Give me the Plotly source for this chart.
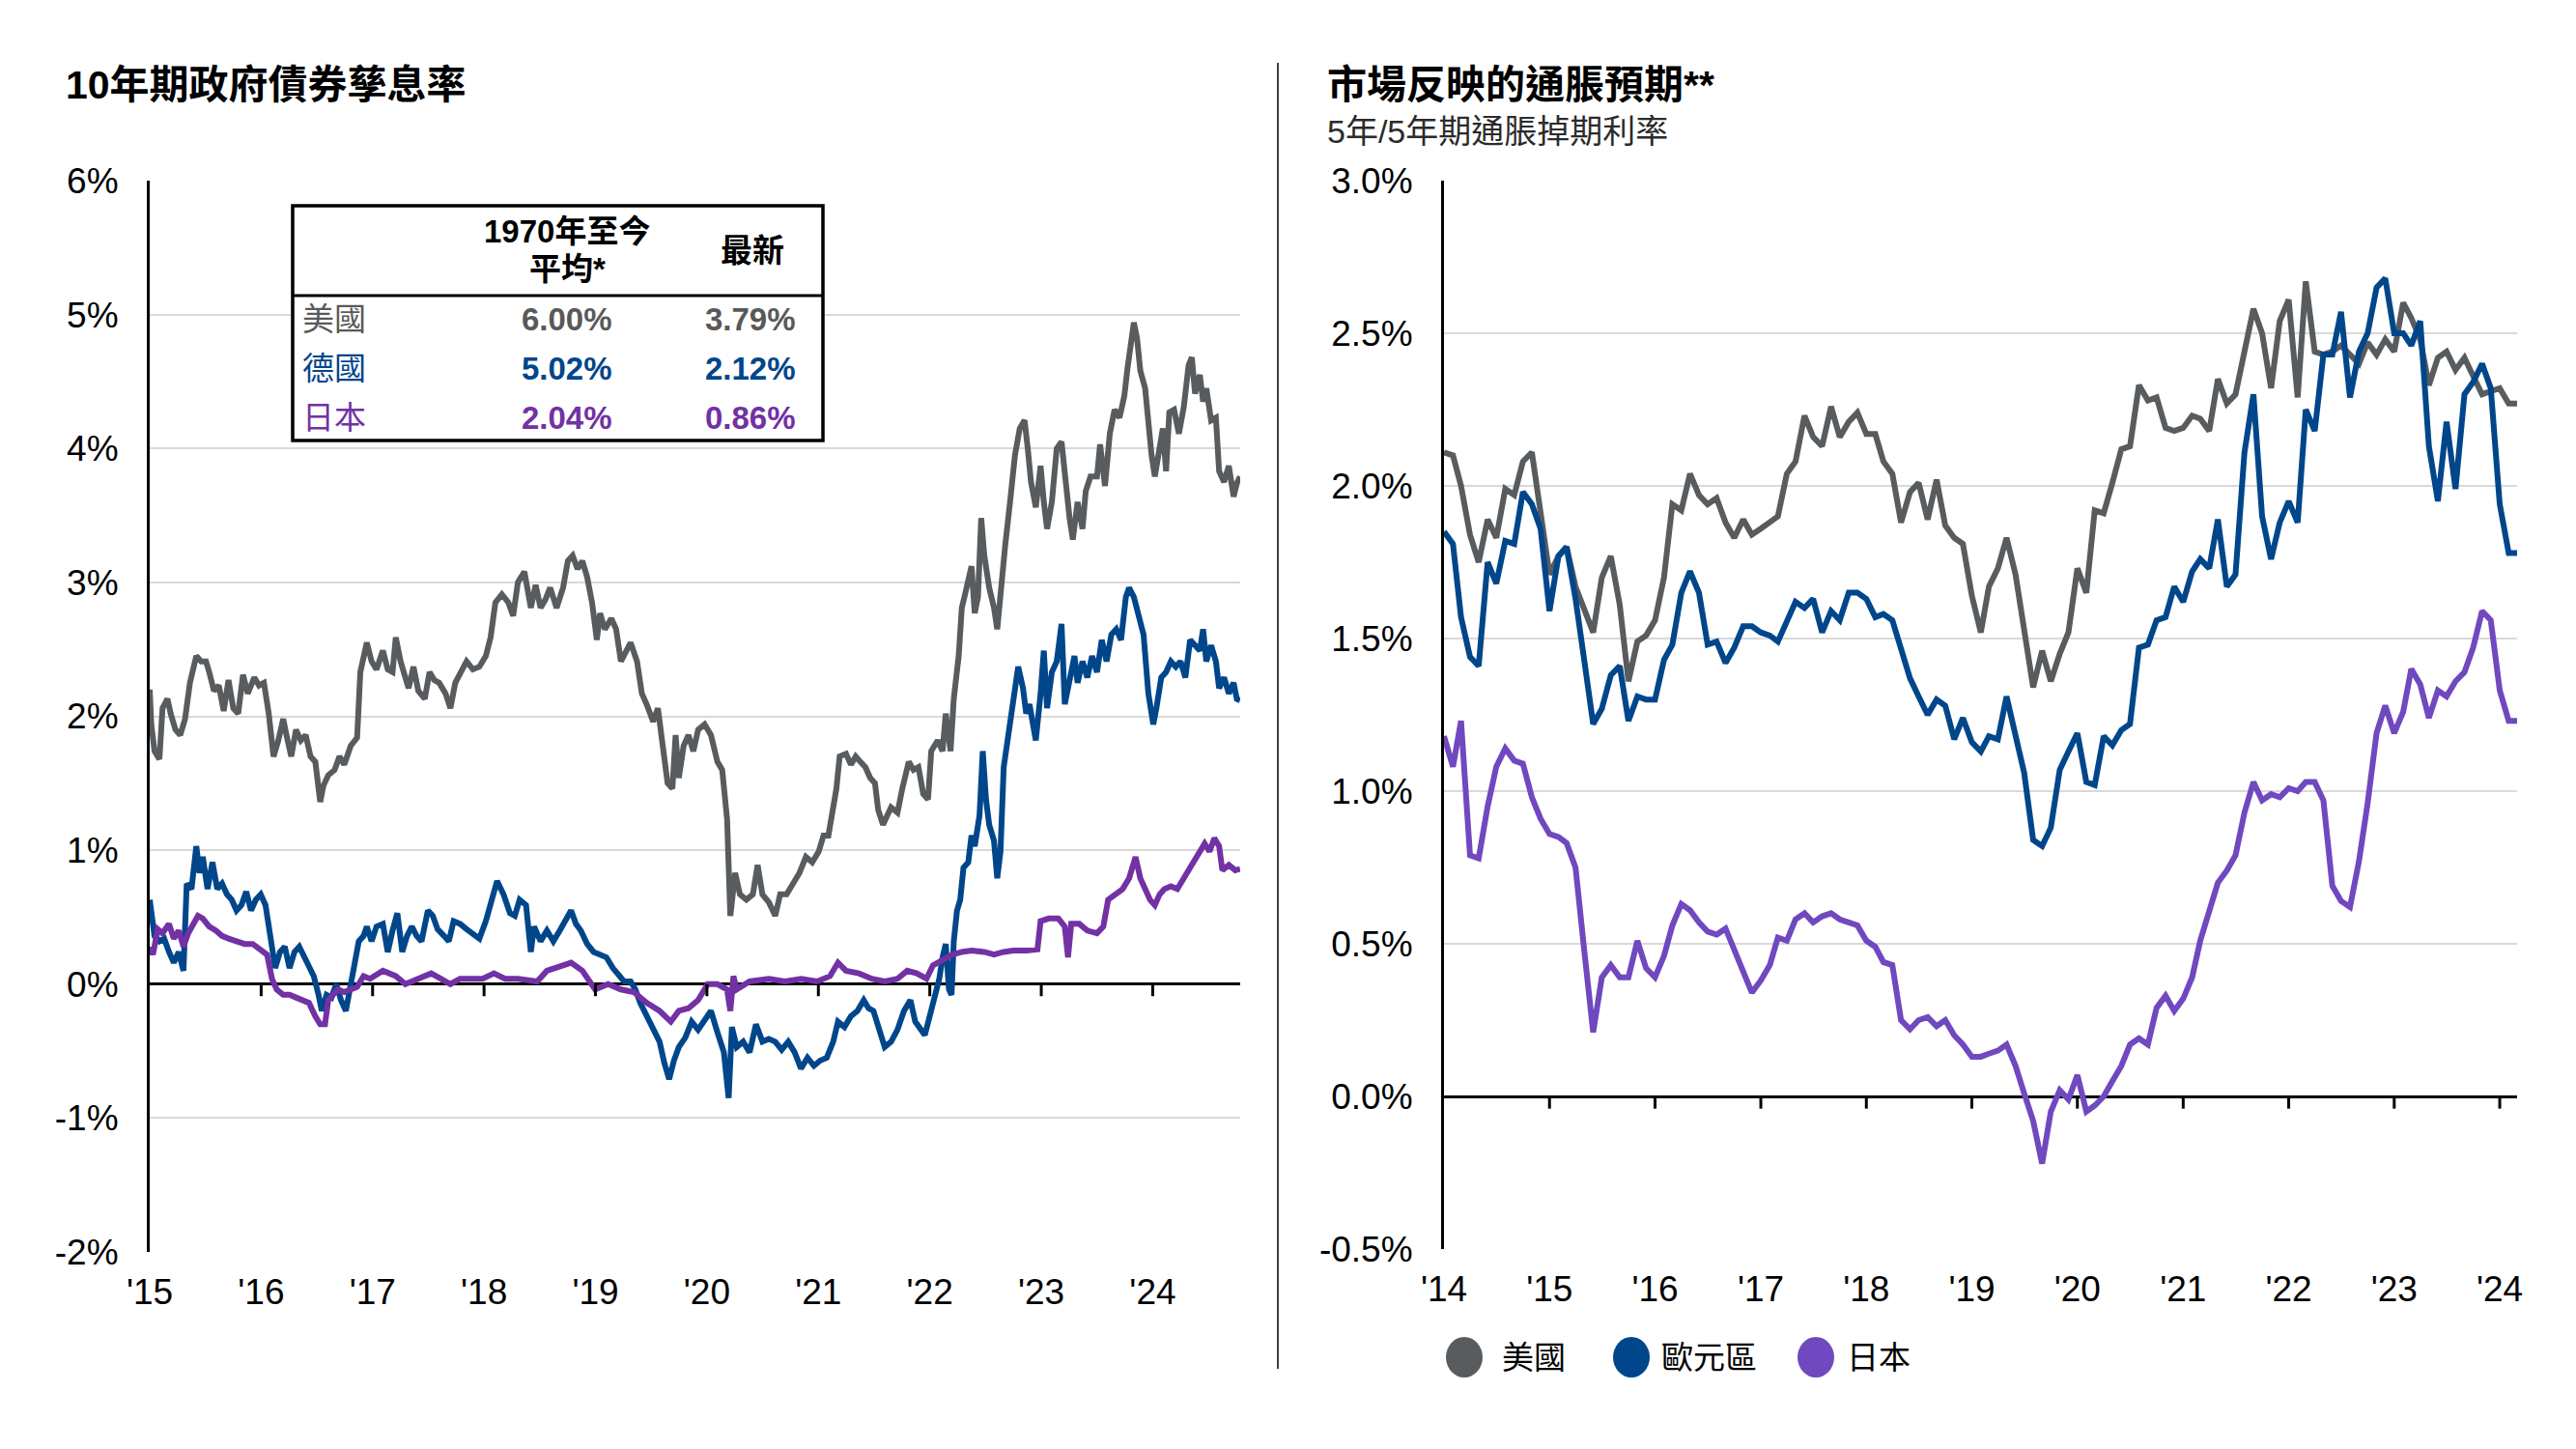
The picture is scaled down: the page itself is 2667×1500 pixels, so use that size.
import plotly.graph_objects as go
import pandas as pd

W, H = 2667, 1500      # browser window
OFF = 8                # page body margin in front of the plot div
FW, FH = W - 2 * OFF, H - 2 * OFF

# ---------------- Left panel: 10-year government bond yields (decimal year, %) ----------------
us_10y = [
    (2015.000, 2.20), (2015.014, 1.94), (2015.043, 1.74), (2015.087, 1.68), (2015.115, 2.06),
    (2015.159, 2.13), (2015.188, 2.02), (2015.231, 1.90), (2015.274, 1.86), (2015.317, 1.98),
    (2015.361, 2.25), (2015.418, 2.45), (2015.462, 2.41), (2015.505, 2.41), (2015.534, 2.33),
    (2015.577, 2.19), (2015.620, 2.23), (2015.664, 2.04), (2015.707, 2.27), (2015.750, 2.06),
    (2015.794, 2.02), (2015.837, 2.31), (2015.880, 2.17), (2015.938, 2.29), (2015.981, 2.23),
    (2016.025, 2.25), (2016.068, 2.02), (2016.111, 1.70), (2016.154, 1.82), (2016.198, 1.98),
    (2016.227, 1.86), (2016.270, 1.70), (2016.313, 1.90), (2016.356, 1.82), (2016.400, 1.86),
    (2016.443, 1.70), (2016.486, 1.66), (2016.530, 1.36), (2016.558, 1.48), (2016.602, 1.56),
    (2016.659, 1.60), (2016.703, 1.70), (2016.746, 1.64), (2016.804, 1.78), (2016.861, 1.84),
    (2016.890, 2.33), (2016.948, 2.55), (2016.991, 2.41), (2017.035, 2.35), (2017.092, 2.49),
    (2017.136, 2.35), (2017.179, 2.33), (2017.208, 2.59), (2017.251, 2.41), (2017.294, 2.29),
    (2017.323, 2.21), (2017.367, 2.37), (2017.410, 2.19), (2017.468, 2.13), (2017.511, 2.33),
    (2017.554, 2.27), (2017.597, 2.25), (2017.655, 2.17), (2017.698, 2.06), (2017.742, 2.25),
    (2017.799, 2.33), (2017.843, 2.41), (2017.900, 2.35), (2017.958, 2.37), (2018.016, 2.45),
    (2018.059, 2.59), (2018.102, 2.85), (2018.160, 2.91), (2018.218, 2.85), (2018.261, 2.75),
    (2018.304, 3.00), (2018.362, 3.08), (2018.420, 2.81), (2018.463, 2.98), (2018.507, 2.81),
    (2018.550, 2.87), (2018.593, 2.96), (2018.651, 2.81), (2018.709, 2.96), (2018.752, 3.16),
    (2018.795, 3.20), (2018.839, 3.10), (2018.882, 3.16), (2018.925, 3.04), (2018.969, 2.85),
    (2019.012, 2.57), (2019.041, 2.77), (2019.084, 2.65), (2019.142, 2.73), (2019.185, 2.65),
    (2019.228, 2.41), (2019.272, 2.49), (2019.315, 2.55), (2019.373, 2.41), (2019.416, 2.17),
    (2019.459, 2.09), (2019.517, 1.96), (2019.560, 2.06), (2019.604, 1.78), (2019.647, 1.50),
    (2019.690, 1.46), (2019.719, 1.86), (2019.748, 1.54), (2019.791, 1.78), (2019.834, 1.86),
    (2019.878, 1.74), (2019.921, 1.90), (2019.979, 1.94), (2020.036, 1.86), (2020.094, 1.66),
    (2020.137, 1.60), (2020.181, 1.23), (2020.210, 0.51), (2020.253, 0.83), (2020.296, 0.67),
    (2020.354, 0.63), (2020.412, 0.67), (2020.455, 0.89), (2020.498, 0.67), (2020.556, 0.61),
    (2020.613, 0.51), (2020.657, 0.67), (2020.715, 0.67), (2020.772, 0.75), (2020.830, 0.83),
    (2020.888, 0.95), (2020.945, 0.91), (2021.003, 0.99), (2021.046, 1.11), (2021.090, 1.11),
    (2021.133, 1.30), (2021.162, 1.46), (2021.191, 1.70), (2021.248, 1.72), (2021.292, 1.64),
    (2021.335, 1.70), (2021.378, 1.66), (2021.422, 1.62), (2021.465, 1.54), (2021.508, 1.50),
    (2021.537, 1.30), (2021.580, 1.19), (2021.652, 1.32), (2021.710, 1.28), (2021.753, 1.46),
    (2021.811, 1.66), (2021.854, 1.60), (2021.898, 1.62), (2021.941, 1.42), (2021.984, 1.38),
    (2022.013, 1.74), (2022.071, 1.82), (2022.114, 1.74), (2022.143, 2.02), (2022.186, 1.74),
    (2022.215, 2.13), (2022.259, 2.45), (2022.287, 2.81), (2022.316, 2.91), (2022.374, 3.12),
    (2022.403, 2.77), (2022.432, 2.89), (2022.461, 3.48), (2022.489, 3.20), (2022.533, 2.96),
    (2022.576, 2.81), (2022.605, 2.65), (2022.634, 2.93), (2022.677, 3.28), (2022.720, 3.60),
    (2022.764, 3.95), (2022.807, 4.15), (2022.850, 4.21), (2022.879, 4.00), (2022.908, 3.75),
    (2022.951, 3.56), (2022.994, 3.87), (2023.023, 3.60), (2023.052, 3.40), (2023.095, 3.60),
    (2023.139, 4.00), (2023.182, 4.05), (2023.211, 3.79), (2023.254, 3.48), (2023.283, 3.32),
    (2023.326, 3.60), (2023.370, 3.40), (2023.399, 3.68), (2023.442, 3.79), (2023.500, 3.79),
    (2023.528, 4.03), (2023.572, 3.72), (2023.615, 4.11), (2023.658, 4.29), (2023.702, 4.23),
    (2023.745, 4.39), (2023.774, 4.60), (2023.803, 4.78), (2023.831, 4.94), (2023.860, 4.82),
    (2023.889, 4.58), (2023.932, 4.45), (2023.961, 4.19), (2023.990, 3.95), (2024.019, 3.79),
    (2024.062, 4.00), (2024.091, 4.15), (2024.120, 3.83), (2024.149, 4.27), (2024.192, 4.29),
    (2024.235, 4.11), (2024.279, 4.31), (2024.322, 4.62), (2024.351, 4.68), (2024.380, 4.41),
    (2024.423, 4.55), (2024.452, 4.35), (2024.481, 4.45), (2024.524, 4.21), (2024.567, 4.23),
    (2024.596, 3.83), (2024.640, 3.75), (2024.683, 3.87), (2024.726, 3.64), (2024.755, 3.74),
    (2024.784, 3.79),
]

de_10y = [
    (2015.000, 0.63), (2015.014, 0.53), (2015.043, 0.36), (2015.087, 0.32), (2015.130, 0.34),
    (2015.173, 0.24), (2015.216, 0.16), (2015.260, 0.24), (2015.303, 0.10), (2015.332, 0.75),
    (2015.375, 0.71), (2015.418, 1.03), (2015.447, 0.83), (2015.476, 0.95), (2015.519, 0.71),
    (2015.563, 0.91), (2015.606, 0.71), (2015.649, 0.75), (2015.693, 0.67), (2015.736, 0.63),
    (2015.779, 0.55), (2015.823, 0.59), (2015.866, 0.69), (2015.909, 0.55), (2015.952, 0.63),
    (2015.996, 0.67), (2016.039, 0.59), (2016.082, 0.36), (2016.126, 0.12), (2016.169, 0.24),
    (2016.212, 0.28), (2016.255, 0.12), (2016.299, 0.24), (2016.342, 0.28), (2016.385, 0.20),
    (2016.429, 0.12), (2016.472, 0.06), (2016.515, -0.08), (2016.544, -0.20), (2016.587, -0.08),
    (2016.631, -0.10), (2016.674, 0.00), (2016.717, -0.12), (2016.760, -0.20), (2016.804, 0.00),
    (2016.847, 0.24), (2016.876, 0.32), (2016.919, 0.36), (2016.948, 0.43), (2016.991, 0.32),
    (2017.035, 0.43), (2017.092, 0.45), (2017.136, 0.24), (2017.179, 0.40), (2017.222, 0.53),
    (2017.266, 0.24), (2017.309, 0.36), (2017.352, 0.43), (2017.395, 0.36), (2017.439, 0.32),
    (2017.496, 0.55), (2017.540, 0.51), (2017.583, 0.41), (2017.641, 0.36), (2017.684, 0.32),
    (2017.727, 0.47), (2017.785, 0.45), (2017.843, 0.41), (2017.900, 0.38), (2017.958, 0.34),
    (2018.016, 0.47), (2018.059, 0.59), (2018.117, 0.77), (2018.175, 0.67), (2018.232, 0.53),
    (2018.276, 0.51), (2018.319, 0.63), (2018.377, 0.59), (2018.420, 0.24), (2018.449, 0.43),
    (2018.507, 0.32), (2018.564, 0.40), (2018.622, 0.32), (2018.680, 0.40), (2018.738, 0.49),
    (2018.781, 0.55), (2018.824, 0.45), (2018.868, 0.40), (2018.925, 0.30), (2018.983, 0.24),
    (2019.041, 0.22), (2019.098, 0.20), (2019.156, 0.12), (2019.199, 0.08), (2019.257, 0.02),
    (2019.315, 0.02), (2019.358, -0.04), (2019.401, -0.14), (2019.459, -0.24), (2019.517, -0.34),
    (2019.575, -0.43), (2019.618, -0.59), (2019.661, -0.71), (2019.704, -0.57), (2019.748, -0.47),
    (2019.806, -0.40), (2019.863, -0.28), (2019.921, -0.34), (2019.979, -0.26), (2020.036, -0.20),
    (2020.094, -0.36), (2020.152, -0.51), (2020.195, -0.85), (2020.224, -0.32), (2020.267, -0.47),
    (2020.325, -0.43), (2020.383, -0.51), (2020.440, -0.30), (2020.498, -0.43), (2020.556, -0.41),
    (2020.613, -0.43), (2020.671, -0.49), (2020.729, -0.43), (2020.787, -0.51), (2020.844, -0.63),
    (2020.902, -0.55), (2020.960, -0.61), (2021.018, -0.57), (2021.075, -0.55), (2021.133, -0.43),
    (2021.176, -0.28), (2021.234, -0.32), (2021.292, -0.24), (2021.350, -0.20), (2021.407, -0.12),
    (2021.450, -0.18), (2021.494, -0.20), (2021.552, -0.36), (2021.595, -0.47), (2021.653, -0.43),
    (2021.710, -0.34), (2021.768, -0.20), (2021.826, -0.12), (2021.869, -0.28), (2021.912, -0.34),
    (2021.955, -0.38), (2021.999, -0.24), (2022.042, -0.08), (2022.085, 0.04), (2022.114, 0.20),
    (2022.143, 0.30), (2022.172, -0.04), (2022.195, -0.08), (2022.215, 0.32), (2022.244, 0.55),
    (2022.273, 0.63), (2022.302, 0.87), (2022.345, 0.91), (2022.374, 1.11), (2022.403, 1.03),
    (2022.446, 1.26), (2022.475, 1.74), (2022.504, 1.38), (2022.533, 1.19), (2022.576, 1.07),
    (2022.605, 0.79), (2022.634, 0.99), (2022.663, 1.62), (2022.706, 1.86), (2022.749, 2.06),
    (2022.793, 2.37), (2022.836, 2.21), (2022.865, 2.02), (2022.894, 2.09), (2022.951, 1.82),
    (2022.994, 2.17), (2023.023, 2.49), (2023.052, 2.06), (2023.095, 2.33), (2023.139, 2.41),
    (2023.182, 2.69), (2023.211, 2.09), (2023.254, 2.29), (2023.298, 2.45), (2023.326, 2.25),
    (2023.370, 2.41), (2023.413, 2.29), (2023.456, 2.45), (2023.500, 2.33), (2023.543, 2.57),
    (2023.586, 2.41), (2023.629, 2.61), (2023.673, 2.65), (2023.716, 2.57), (2023.759, 2.89),
    (2023.788, 2.96), (2023.831, 2.89), (2023.875, 2.73), (2023.918, 2.61), (2023.961, 2.17),
    (2024.005, 1.94), (2024.033, 2.06), (2024.077, 2.29), (2024.120, 2.33), (2024.163, 2.41),
    (2024.207, 2.37), (2024.250, 2.41), (2024.293, 2.29), (2024.336, 2.57), (2024.380, 2.53),
    (2024.423, 2.49), (2024.452, 2.65), (2024.481, 2.41), (2024.524, 2.53), (2024.567, 2.41),
    (2024.596, 2.21), (2024.640, 2.29), (2024.683, 2.17), (2024.726, 2.25), (2024.755, 2.13),
    (2024.784, 2.12),
]

jp_10y = [
    (2015.000, 0.28), (2015.029, 0.22), (2015.072, 0.41), (2015.115, 0.38), (2015.173, 0.45),
    (2015.216, 0.34), (2015.260, 0.40), (2015.303, 0.28), (2015.346, 0.38), (2015.390, 0.45),
    (2015.433, 0.51), (2015.476, 0.49), (2015.534, 0.43), (2015.592, 0.40), (2015.649, 0.36),
    (2015.707, 0.34), (2015.779, 0.32), (2015.851, 0.30), (2015.924, 0.30), (2015.996, 0.26),
    (2016.053, 0.22), (2016.097, 0.04), (2016.140, -0.04), (2016.198, -0.08), (2016.255, -0.08),
    (2016.313, -0.10), (2016.371, -0.12), (2016.429, -0.14), (2016.486, -0.24), (2016.530, -0.30),
    (2016.573, -0.30), (2016.602, -0.12), (2016.645, -0.08), (2016.688, -0.04), (2016.746, -0.06),
    (2016.804, -0.04), (2016.861, -0.02), (2016.919, 0.06), (2016.977, 0.04), (2017.092, 0.10),
    (2017.208, 0.06), (2017.294, 0.00), (2017.410, 0.04), (2017.525, 0.08), (2017.612, 0.04),
    (2017.698, 0.00), (2017.785, 0.04), (2017.872, 0.04), (2017.987, 0.04), (2018.088, 0.08),
    (2018.189, 0.04), (2018.304, 0.04), (2018.478, 0.02), (2018.564, 0.10), (2018.651, 0.12),
    (2018.781, 0.16), (2018.882, 0.10), (2018.997, -0.04), (2019.113, 0.00), (2019.228, -0.04),
    (2019.344, -0.06), (2019.459, -0.14), (2019.575, -0.20), (2019.676, -0.28), (2019.748, -0.20),
    (2019.834, -0.18), (2019.921, -0.12), (2020.007, 0.00), (2020.094, 0.00), (2020.181, -0.04),
    (2020.210, -0.20), (2020.238, 0.06), (2020.267, -0.04), (2020.383, 0.02), (2020.556, 0.04),
    (2020.700, 0.02), (2020.845, 0.04), (2020.989, 0.02), (2021.104, 0.06), (2021.176, 0.16),
    (2021.248, 0.10), (2021.364, 0.08), (2021.479, 0.04), (2021.595, 0.02), (2021.710, 0.04),
    (2021.797, 0.10), (2021.883, 0.08), (2021.970, 0.04), (2022.028, 0.14), (2022.114, 0.18),
    (2022.201, 0.22), (2022.287, 0.24), (2022.374, 0.25), (2022.489, 0.24), (2022.576, 0.22),
    (2022.663, 0.24), (2022.749, 0.25), (2022.865, 0.25), (2022.966, 0.26), (2022.994, 0.47),
    (2023.067, 0.49), (2023.153, 0.49), (2023.211, 0.43), (2023.240, 0.20), (2023.269, 0.45),
    (2023.341, 0.45), (2023.413, 0.40), (2023.500, 0.38), (2023.557, 0.43), (2023.600, 0.63),
    (2023.673, 0.67), (2023.730, 0.71), (2023.788, 0.79), (2023.846, 0.95), (2023.889, 0.79),
    (2023.932, 0.71), (2023.976, 0.63), (2024.019, 0.59), (2024.062, 0.67), (2024.106, 0.71),
    (2024.163, 0.73), (2024.221, 0.71), (2024.279, 0.79), (2024.351, 0.87), (2024.423, 0.99),
    (2024.466, 1.05), (2024.510, 0.99), (2024.553, 1.09), (2024.596, 1.03), (2024.625, 0.85),
    (2024.683, 0.89), (2024.741, 0.85), (2024.784, 0.86),
]

left_years = list(range(2015, 2025))
left_ticklabels = ["'15", "'16", "'17", "'18", "'19", "'20", "'21", "'22", "'23", "'24"]
left_yticks = [-2, -1, 0, 1, 2, 3, 4, 5, 6]
left_yticklabels = ["-2%", "-1%", "0%", "1%", "2%", "3%", "4%", "5%", "6%"]

table_rows = [
    ("美國", "6.00%", "3.79%"),
    ("德國", "5.02%", "2.12%"),
    ("日本", "2.04%", "0.86%"),
]

# ---------------- Right panel: 5y5y inflation swap (monthly, %) ----------------
r_start = "2014-01-01"
r_us = [
    2.11, 2.10, 2.00, 1.84, 1.75, 1.89, 1.83, 1.99, 1.97, 2.08, 2.11, 1.91,
    1.71, 1.77, 1.80, 1.67, 1.59, 1.52, 1.70, 1.77, 1.61, 1.36, 1.49, 1.51,
    1.56, 1.70, 1.94, 1.92, 2.04, 1.97, 1.94, 1.96, 1.88, 1.83, 1.89, 1.84,
    1.86, 1.88, 1.90, 2.04, 2.08, 2.23, 2.16, 2.13, 2.26, 2.16, 2.21, 2.24,
    2.17, 2.17, 2.08, 2.04, 1.88, 1.98, 2.01, 1.89, 2.02, 1.87, 1.83, 1.81,
    1.64, 1.52, 1.67, 1.73, 1.83, 1.71, 1.53, 1.34, 1.46, 1.36, 1.45, 1.52,
    1.73, 1.65, 1.92, 1.91, 2.01, 2.12, 2.13, 2.33, 2.28, 2.29, 2.19, 2.18,
    2.19, 2.23, 2.22, 2.18, 2.35, 2.27, 2.30, 2.44, 2.58, 2.50, 2.32, 2.54,
    2.61, 2.29, 2.67, 2.44, 2.43, 2.44, 2.46, 2.43, 2.40, 2.47, 2.43, 2.48,
    2.44, 2.60, 2.55, 2.48, 2.33, 2.42, 2.44, 2.38, 2.42, 2.36, 2.30, 2.31,
    2.32, 2.27, 2.27,
]
r_ez = [
    1.85, 1.81, 1.57, 1.44, 1.41, 1.75, 1.68, 1.82, 1.81, 1.98, 1.94, 1.86,
    1.59, 1.77, 1.80, 1.63, 1.43, 1.22, 1.27, 1.38, 1.41, 1.23, 1.31, 1.30,
    1.30, 1.43, 1.48, 1.65, 1.72, 1.65, 1.48, 1.49, 1.42, 1.47, 1.54, 1.54,
    1.52, 1.51, 1.49, 1.56, 1.62, 1.60, 1.63, 1.52, 1.59, 1.56, 1.65, 1.65,
    1.63, 1.57, 1.58, 1.56, 1.47, 1.37, 1.31, 1.25, 1.30, 1.28, 1.17, 1.24,
    1.16, 1.13, 1.18, 1.17, 1.31, 1.19, 1.06, 0.84, 0.82, 0.88, 1.07, 1.13,
    1.19, 1.03, 1.02, 1.18, 1.15, 1.20, 1.22, 1.47, 1.48, 1.56, 1.57, 1.67,
    1.62, 1.72, 1.76, 1.73, 1.89, 1.67, 1.71, 2.11, 2.30, 1.90, 1.76, 1.88,
    1.95, 1.88, 2.25, 2.18, 2.43, 2.43, 2.57, 2.29, 2.44, 2.50, 2.65, 2.68,
    2.50, 2.50, 2.46, 2.54, 2.13, 1.95, 2.21, 1.99, 2.30, 2.34, 2.40, 2.32,
    1.94, 1.78, 1.78,
]
r_jp = [
    1.18, 1.08, 1.23, 0.79, 0.78, 0.95, 1.08, 1.14, 1.10, 1.09, 0.98, 0.91,
    0.86, 0.85, 0.83, 0.75, 0.48, 0.21, 0.39, 0.43, 0.39, 0.39, 0.51, 0.42,
    0.39, 0.46, 0.56, 0.63, 0.61, 0.57, 0.54, 0.53, 0.55, 0.48, 0.41, 0.34,
    0.38, 0.43, 0.52, 0.51, 0.58, 0.60, 0.57, 0.59, 0.60, 0.58, 0.57, 0.56,
    0.51, 0.49, 0.44, 0.43, 0.25, 0.22, 0.25, 0.26, 0.23, 0.25, 0.20, 0.17,
    0.13, 0.13, 0.14, 0.15, 0.17, 0.10, 0.01, -0.08, -0.22, -0.05, 0.02, -0.01,
    0.07, -0.05, -0.03, 0.00, 0.05, 0.10, 0.17, 0.19, 0.17, 0.29, 0.33, 0.28,
    0.32, 0.39, 0.51, 0.60, 0.70, 0.74, 0.79, 0.93, 1.03, 0.97, 0.99, 0.98,
    1.01, 1.00, 1.03, 1.03, 0.97, 0.69, 0.64, 0.62, 0.77, 0.96, 1.19, 1.28,
    1.19, 1.26, 1.40, 1.35, 1.24, 1.33, 1.31, 1.36, 1.39, 1.47, 1.59, 1.56,
    1.33, 1.23, 1.23,
]
right_years = list(range(2014, 2025))
right_ticklabels = ["'14", "'15", "'16", "'17", "'18", "'19", "'20", "'21", "'22", "'23", "'24"]
right_yticks = [-0.5, 0.0, 0.5, 1.0, 1.5, 2.0, 2.5, 3.0]
right_yticklabels = ["-0.5%", "0.0%", "0.5%", "1.0%", "1.5%", "2.0%", "2.5%", "3.0%"]
legend_names = ["美國", "歐元區", "日本"]

# ---------------- Styles ----------------
GRAY = "#585c5f"
BLUE = "#00468b"
PURPLE_L = "#7231a4"
PURPLE_R = "#7048bf"
GRID = "#d9d9d9"
FONT = "Liberation Sans, Arial, 'Noto Sans CJK TC', sans-serif"
NARROW = "'Liberation Sans Narrow', 'Arial Narrow', 'Liberation Sans', Arial, sans-serif"

months = pd.date_range(r_start, periods=len(r_us), freq="MS")

fig = go.Figure()
for data, color in [(us_10y, GRAY), (de_10y, BLUE), (jp_10y, PURPLE_L)]:
    fig.add_trace(go.Scatter(
        x=[p[0] for p in data], y=[p[1] for p in data], mode="lines",
        line=dict(color=color, width=6), xaxis="x", yaxis="y",
        showlegend=False, hoverinfo="skip"))
for vals, color, name in [(r_us, GRAY, legend_names[0]), (r_ez, BLUE, legend_names[1]),
                          (r_jp, PURPLE_R, legend_names[2])]:
    fig.add_trace(go.Scatter(
        x=months, y=vals, mode="lines", name=name,
        line=dict(color=color, width=6), xaxis="x2", yaxis="y2",
        showlegend=False, hoverinfo="skip"))


# window pixel -> paper fraction (plot div sits OFF px inside the window)
def px(x):
    return (x - OFF) / FW


def py(y):
    return 1 - (y - OFF) / FH


tickfont = dict(family=NARROW, size=37, color="#000000")

fig.update_layout(
    width=FW, height=FH, margin=dict(l=0, r=0, t=0, b=0, pad=0, autoexpand=False),
    paper_bgcolor="white", plot_bgcolor="white", showlegend=False,
    font=dict(family=FONT, color="#000000"),
    xaxis=dict(domain=[px(155), px(1284)], range=[2015, 2024.785], anchor="y",
               tickmode="array", tickvals=left_years, ticktext=left_ticklabels,
               tickfont=tickfont, automargin=False,
               showgrid=False, zeroline=False, showline=False, ticks="",
               ticklabelstandoff=16),
    yaxis=dict(domain=[py(1296), py(187)], range=[-2, 6], anchor="x",
               tickmode="array", tickvals=left_yticks, ticktext=left_yticklabels,
               tickfont=tickfont, automargin=False,
               showgrid=True, gridcolor=GRID, gridwidth=2,
               zeroline=True, zerolinecolor="#000000", zerolinewidth=3,
               showline=True, linecolor="#000000", linewidth=3, ticks="",
               ticklabelstandoff=22),
    xaxis2=dict(domain=[px(1495), px(2606)], range=[r_start, "2024-03-01"], anchor="y2",
                type="date", tickmode="array",
                tickvals=[f"{y}-01-01" for y in right_years], ticktext=right_ticklabels,
                tickfont=tickfont, automargin=False,
                showgrid=False, zeroline=False, showline=False,
                ticks="", ticklabelstandoff=16),
    yaxis2=dict(domain=[py(1293), py(187)], range=[-0.5, 3.0], anchor="x2",
                tickmode="array", tickvals=right_yticks, ticktext=right_yticklabels,
                tickfont=tickfont, automargin=False,
                showgrid=True, gridcolor=GRID, gridwidth=2,
                zeroline=True, zerolinecolor="#000000", zerolinewidth=3,
                showline=True, linecolor="#000000", linewidth=3, ticks="",
                ticklabelstandoff=22),
)

shapes = []
# year tick marks sitting on the zero lines
for yr in left_years[1:]:
    shapes.append(dict(type="line", xref="x", yref="y", x0=yr, x1=yr, y0=0, y1=-0.09,
                       line=dict(color="#000000", width=3)))
for yr in right_years[1:]:
    d = f"{yr}-01-01"
    shapes.append(dict(type="line", xref="x2", yref="y2", x0=d, x1=d, y0=0, y1=-0.04,
                       line=dict(color="#000000", width=3)))
# panel divider
shapes.append(dict(type="line", xref="paper", yref="paper", x0=px(1323), x1=px(1323),
                   y0=py(65), y1=py(1417), line=dict(color="#404040", width=2)))
# table box
shapes.append(dict(type="rect", xref="paper", yref="paper", x0=px(303), x1=px(852),
                   y0=py(456), y1=py(213), fillcolor="white",
                   line=dict(color="#000000", width=3.5)))
shapes.append(dict(type="line", xref="paper", yref="paper", x0=px(303), x1=px(852),
                   y0=py(306), y1=py(306), line=dict(color="#000000", width=3)))
# legend dots
leg_colors = [GRAY, BLUE, PURPLE_R]
leg_cx = [1516, 1689, 1880]
for cx, c in zip(leg_cx, leg_colors):
    shapes.append(dict(type="circle", xref="paper", yref="paper",
                       x0=px(cx - 19), x1=px(cx + 19), y0=py(1426), y1=py(1384),
                       fillcolor=c, line=dict(color=c, width=0)))

ann = []


def text(x, y, s, size, color="#000000", xanchor="left", bold=False):
    ann.append(dict(x=px(x), y=py(y), xref="paper", yref="paper", showarrow=False,
                    xanchor=xanchor, yanchor="middle",
                    text=f"<b>{s}</b>" if bold else s,
                    font=dict(family=FONT, size=size, color=color)))


text(66, 88, "10年期政府債券孳息率", 41, bold=True)
text(1372, 88, "市場反映的通脹預期**", 41, bold=True)
text(1372, 136, "5年/5年期通脹掉期利率", 34, color="#2b2b2b")

text(587, 239, "1970年至今", 33, xanchor="center", bold=True)
text(587, 278, "平均*", 33, xanchor="center", bold=True)
text(779, 259, "最新", 33, xanchor="center", bold=True)
row_colors = ["#595959", BLUE, PURPLE_L]
row_y = [330, 381, 432]
for (name, avg, last), c, ry in zip(table_rows, row_colors, row_y):
    text(311, ry, name, 33, color=c)
    text(587, ry, avg, 33, color=c, xanchor="center", bold=True)
    text(777, ry, last, 33, color=c, xanchor="center", bold=True)

leg_tx = [1553, 1718, 1910]
for tx, name in zip(leg_tx, legend_names):
    text(tx, 1405, name, 33, color="#000000")

fig.update_layout(shapes=shapes, annotations=ann)
fig.write_html("out.html")
